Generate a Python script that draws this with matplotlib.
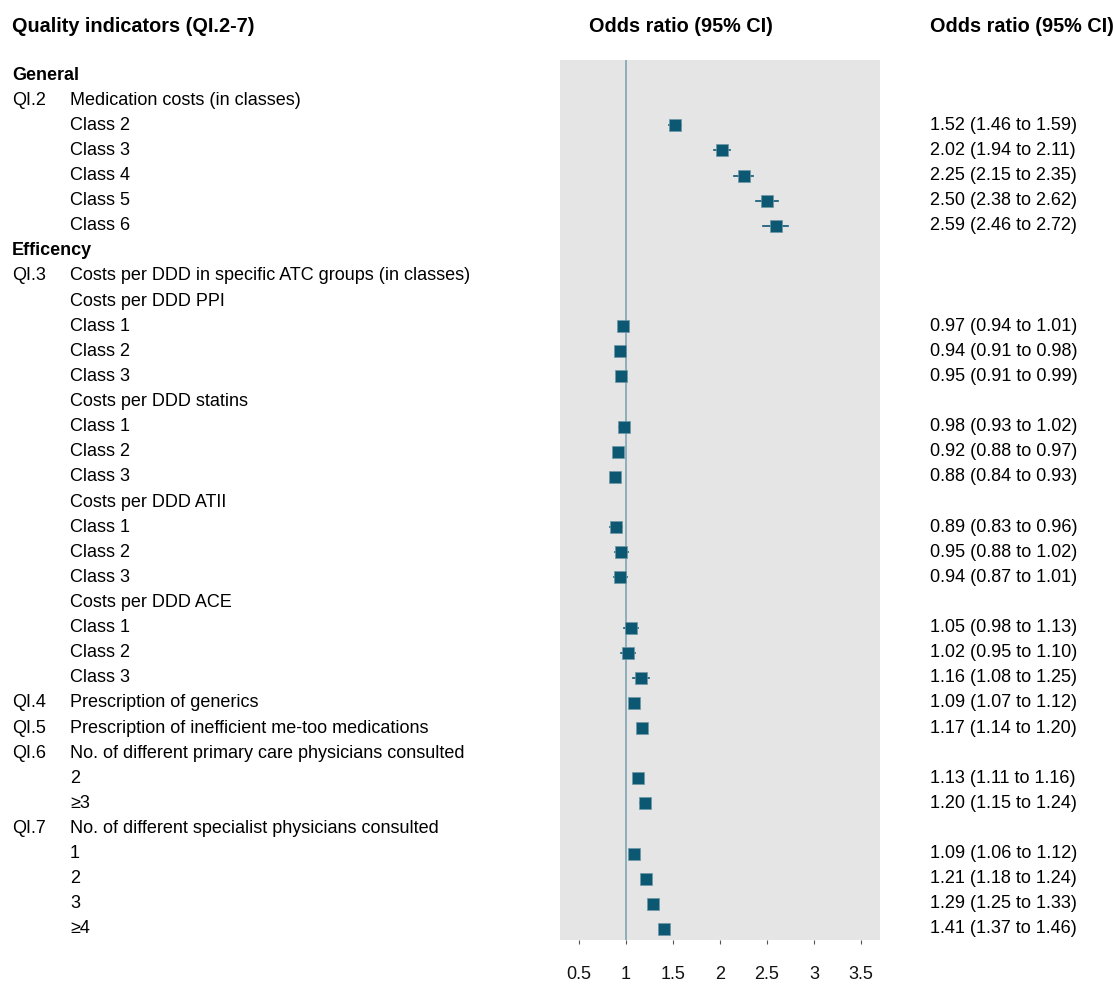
import numpy as np
import matplotlib
import matplotlib.pyplot as plt
from matplotlib.transforms import blended_transform_factory

matplotlib.rcParams["font.family"] = ["Liberation Sans", "DejaVu Sans"]

# rows of the table, top to bottom
row_codes = [
    "", "QI.2", "", "", "", "", "",
    "", "QI.3", "", "", "", "", "", "", "", "", "", "", "", "", "", "", "", "",
    "QI.4", "QI.5", "QI.6", "", "", "QI.7", "", "", "", "",
]
row_labels = [
    "General", "Medication costs (in classes)",
    "Class 2", "Class 3", "Class 4", "Class 5", "Class 6",
    "Efficency", "Costs per DDD in specific ATC groups (in classes)",
    "Costs per DDD PPI", "Class 1", "Class 2", "Class 3",
    "Costs per DDD statins", "Class 1", "Class 2", "Class 3",
    "Costs per DDD ATII", "Class 1", "Class 2", "Class 3",
    "Costs per DDD ACE", "Class 1", "Class 2", "Class 3",
    "Prescription of generics",
    "Prescription of inefficient me-too medications",
    "No. of different primary care physicians consulted", "2", "\u22653",
    "No. of different specialist physicians consulted", "1", "2", "3", "\u22654",
]
section_rows = [0, 7]

odds = [None, None, 1.52, 2.02, 2.25, 2.50, 2.59,
        None, None, None, 0.97, 0.94, 0.95, None, 0.98, 0.92, 0.88,
        None, 0.89, 0.95, 0.94, None, 1.05, 1.02, 1.16,
        1.09, 1.17, None, 1.13, 1.20, None, 1.09, 1.21, 1.29, 1.41]
ci_low = [None, None, 1.46, 1.94, 2.15, 2.38, 2.46,
          None, None, None, 0.94, 0.91, 0.91, None, 0.93, 0.88, 0.84,
          None, 0.83, 0.88, 0.87, None, 0.98, 0.95, 1.08,
          1.07, 1.14, None, 1.11, 1.15, None, 1.06, 1.18, 1.25, 1.37]
ci_high = [None, None, 1.59, 2.11, 2.35, 2.62, 2.72,
           None, None, None, 1.01, 0.98, 0.99, None, 1.02, 0.97, 0.93,
           None, 0.96, 1.02, 1.01, None, 1.13, 1.10, 1.25,
           1.12, 1.20, None, 1.16, 1.24, None, 1.12, 1.24, 1.33, 1.46]

x_ticks = [0.5, 1, 1.5, 2, 2.5, 3, 3.5]
x_tick_labels = ["0.5", "1", "1.5", "2", "2.5", "3", "3.5"]

W, H = 1113, 986
fig = plt.figure(figsize=(W / 100, H / 100), dpi=100)
ax = fig.add_axes([560 / W, 1 - 940 / H, 320 / W, 880 / H])
ax.set_facecolor("#e5e5e5")
for s in ax.spines.values():
    s.set_visible(False)

n = len(row_labels)
ax.set_ylim(n - 1 + 0.44, -0.6)
ax.set_xlim(0.3, 3.7)

mark_color = "#0c5872"
ax.axvline(1, color="#86aab6", linewidth=1.3, zorder=1)

# CI-Linie + Quadrat je Zeile
for i in range(n):
    if odds[i] is None:
        continue
    ax.plot([ci_low[i], ci_high[i]], [i, i], color=mark_color, linewidth=1.2, zorder=2)
    ax.plot(odds[i], i, marker="s", markersize=8.3, color=mark_color,
            markeredgecolor="#6f98a8", markeredgewidth=0.5, zorder=3)

ax.set_yticks([])
ax.set_xticks(x_ticks)
ax.set_xticklabels(x_tick_labels, fontsize=13)
ax.tick_params(axis="x", length=3, width=0.8, color="#555555", pad=16, labelcolor="#111111")

# text columns
tr = blended_transform_factory(fig.transFigure, ax.transData)
fs = 13
for i in range(n):
    if i in section_rows:
        ax.text(12 / W, i, row_labels[i], transform=tr, fontsize=fs,
                fontweight="bold", va="center", ha="left", clip_on=False)
        continue
    if row_codes[i]:
        ax.text(12 / W, i, row_codes[i], transform=tr, fontsize=fs,
                va="center", ha="left", clip_on=False)
    ax.text(70 / W, i, row_labels[i], transform=tr, fontsize=fs,
            va="center", ha="left", clip_on=False)
    if odds[i] is not None:
        txt = f"{odds[i]:.2f} ({ci_low[i]:.2f} to {ci_high[i]:.2f})"
        ax.text(930 / W, i, txt, transform=tr, fontsize=fs,
                va="center", ha="left", clip_on=False)

# headers
hy = 1 - 27 / H
hfs = 14.3
fig.text(12 / W, hy, "Quality indicators (QI.2-7)", fontsize=hfs, fontweight="bold", va="center")
fig.text(681 / W, hy, "Odds ratio (95% CI)", fontsize=hfs, fontweight="bold", va="center", ha="center")
fig.text(930 / W, hy, "Odds ratio (95% CI)", fontsize=hfs, fontweight="bold", va="center")

fig.savefig("out.png", dpi=100)
